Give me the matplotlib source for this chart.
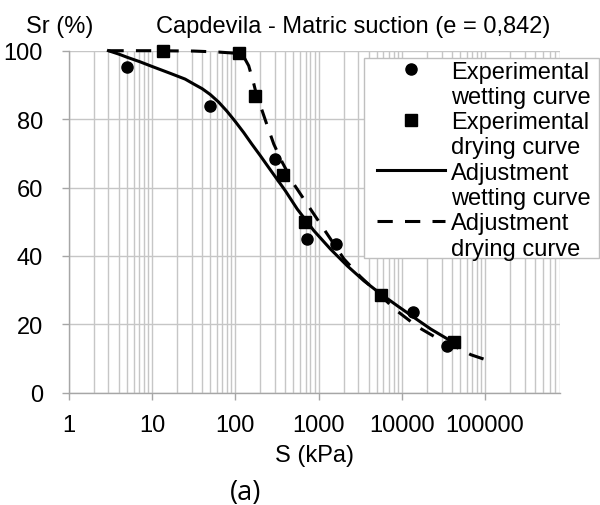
import matplotlib
matplotlib.use("Agg")
import matplotlib.pyplot as plt
from matplotlib.lines import Line2D
from matplotlib.patches import Rectangle
from matplotlib.ticker import LogLocator, FixedLocator, NullFormatter

plt.rcParams['font.family'] = ['Liberation Sans', 'DejaVu Sans']

# ---- data ----
S_wet = [5, 50, 300, 720, 1600, 13650, 34500]
Sr_wet = [95.2, 83.9, 68.2, 44.9, 43.4, 23.6, 13.8]

S_dry = [13.5, 110, 175, 375, 680, 5570, 42500]
Sr_dry = [100, 99.2, 86.8, 63.7, 50.0, 28.6, 14.9]

S_fit_wet = [3, 4, 5, 7.1, 10, 16.5, 25, 31.5, 40, 50, 63, 79.5, 100, 126, 158,
             200, 251, 316, 398, 555, 877, 1390, 2210, 3510, 5570, 8850, 14000,
             22300, 35400, 42500]
Sr_fit_wet = [100, 99.0, 98.1, 96.8, 95.4, 93.4, 91.7, 90.3, 88.9, 87.2, 85.0,
              82.3, 79.3, 76.1, 72.7, 69.3, 65.9, 62.5, 59.1, 53.7, 47.4, 42.0,
              37.1, 32.7, 28.9, 25.4, 22.0, 18.6, 15.7, 14.7]

S_fit_dry = [3, 10, 31.6, 63, 110, 126, 145, 167, 183, 210, 242, 290, 366, 505,
             800, 1270, 2020, 3160, 5570, 8450, 15400, 29400, 50100, 67500, 100000]
Sr_fit_dry = [100, 100, 99.9, 99.6, 99.2, 98.3, 95.6, 90.3, 86.4, 82.5, 78.1,
              72.7, 67.4, 61.0, 53.7, 46.4, 39.1, 34.0, 28.4, 24.2, 19.3, 15.3,
              12.8, 11.1, 9.7]

y_ticks = [0, 20, 40, 60, 80, 100]
x_ticks = [1, 10, 100, 1000, 10000, 100000]
x_tick_labels = ["1", "10", "100", "1000", "10000", "100000"]

title = "Capdevila - Matric suction (e = 0,842)"
ylabel_top = "Sr (%)"
xlabel = "S (kPa)"
panel = "(a)"
legend_labels = ["Experimental", "wetting curve", "Experimental", "drying curve",
                 "Adjustment", "wetting curve", "Adjustment", "drying curve"]

W, H = 600, 506
FS = 17
fig = plt.figure(figsize=(W / 100, H / 100), dpi=100)
L, R, T, B = 68.7, 560.3, 51.7, 393.7
ax = fig.add_axes([L / W, 1 - B / H, (R - L) / W, (B - T) / H])

ax.set_xscale('log')
ax.set_xlim(1, 8e5)
ax.set_ylim(0, 100)

grid_c = '#C6C6C6'
axis_c = '#A6A6A6'
ax.xaxis.set_minor_locator(LogLocator(base=10, subs=range(2, 10), numticks=20))
ax.xaxis.set_minor_formatter(NullFormatter())
ax.set_xticks(x_ticks)
ax.set_xticklabels(x_tick_labels)
ax.set_yticks(y_ticks)
ax.set_yticklabels([str(v) for v in y_ticks])
ax.grid(True, which='major', axis='both', color=grid_c, lw=1.0)
ax.grid(True, which='minor', axis='x', color=grid_c, lw=1.0)
ax.set_axisbelow(True)
ax.tick_params(axis='both', which='major', labelsize=FS, length=5, width=1.0,
               color=axis_c, direction='out')
ax.tick_params(axis='x', which='major', pad=10)
ax.tick_params(axis='y', which='major', pad=13.5)
ax.tick_params(axis='x', which='minor', length=0)
for s in ['top', 'right']:
    ax.spines[s].set_visible(False)
for s in ['left', 'bottom']:
    ax.spines[s].set_color(axis_c)
    ax.spines[s].set_linewidth(1.0)

lw = 2.2
ax.plot(S_fit_wet, Sr_fit_wet, color='black', lw=lw, ls='-', clip_on=False, zorder=3)
ax.plot(S_fit_dry, Sr_fit_dry, color='black', lw=lw, ls=(0, (5, 4)), clip_on=False, zorder=3)
ax.plot(S_wet, Sr_wet, ls='none', marker='o', ms=8, color='black', clip_on=False, zorder=4)
ax.plot(S_dry, Sr_dry, ls='none', marker='s', ms=8, color='black', clip_on=False, zorder=4)

ax.set_xlabel(xlabel, fontsize=FS, labelpad=6)

fig.text(26 / W, 1 - 33 / H, ylabel_top, fontsize=FS, ha='left', va='baseline')
fig.text(353.5 / W, 1 - 33 / H, title, fontsize=FS, ha='center', va='baseline')
fig.text(245.5 / W, 1 - 493 / H, panel, fontsize=19.5, ha='center', va='center',
         family=['Open Sans', 'DejaVu Sans'])

# legend frame
fig.patches.append(Rectangle((364 / W, 1 - 259 / H), (599 - 364) / W, (259 - 59) / H,
                             transform=fig.transFigure, facecolor='white',
                             edgecolor='#BFBFBF', lw=1.0, zorder=1))
empty = Line2D([], [], ls='none')
handles = [Line2D([], [], ls='none', marker='o', ms=8, color='black'), empty,
           Line2D([], [], ls='none', marker='s', ms=8, color='black'), empty,
           Line2D([], [], ls='-', lw=lw, color='black'), empty,
           Line2D([], [], ls=(0, (5, 4)), lw=lw, color='black'), empty]
fig.legend(handles, legend_labels, loc='upper left',
           bbox_to_anchor=(377 / W, 1 - 61.5 / H), bbox_transform=fig.transFigure,
           frameon=False, borderpad=0, borderaxespad=0, fontsize=FS,
           handlelength=68 / 23.6, handletextpad=0.25, labelspacing=0.14)

fig.savefig('out.png', dpi=100)
